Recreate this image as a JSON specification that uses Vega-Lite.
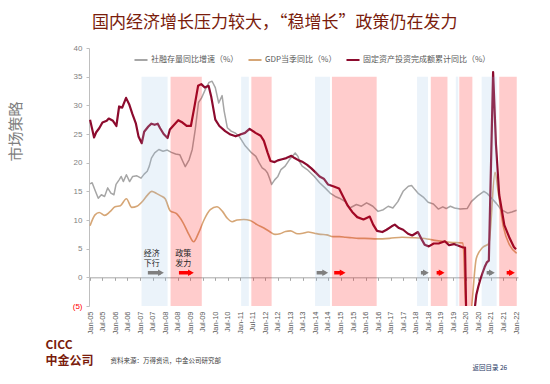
{
  "$schema": "https://vega.github.io/schema/vega-lite/v6.json",
  "width": 429,
  "height": 258,
  "autosize": {"type": "none"},
  "padding": {"left": 89, "top": 48, "right": 32, "bottom": 78},
  "background": "white",
  "title": {"text": "国内经济增长压力较大，“稳增长”政策仍在发力", "anchor": "start", "frame": "group", "orient": "top", "dx": 3, "offset": -5, "baseline": "bottom", "font": "Noto Sans CJK SC", "fontSize": 17, "fontWeight": "normal", "color": "#7A1C0C"},
  "config": {"view": {"stroke": null}, "font": "Noto Sans CJK SC"},
  "resolve": {"axis": {"x": "independent", "y": "independent"}, "scale": {"fill": "independent", "stroke": "independent"}},
  "datasets": {
    "gdp": [
      {"d":"2005-01-01","s":"GDP当季同比（%）","v":9.0},
      {"d":"2005-03-15","s":"GDP当季同比（%）","v":10.9},
      {"d":"2005-05-15","s":"GDP当季同比（%）","v":11.3},
      {"d":"2005-08-01","s":"GDP当季同比（%）","v":10.8},
      {"d":"2005-10-15","s":"GDP当季同比（%）","v":11.4},
      {"d":"2006-01-01","s":"GDP当季同比（%）","v":12.3},
      {"d":"2006-03-20","s":"GDP当季同比（%）","v":12.5},
      {"d":"2006-06-15","s":"GDP当季同比（%）","v":13.7},
      {"d":"2006-09-01","s":"GDP当季同比（%）","v":12.2},
      {"d":"2006-11-15","s":"GDP当季同比（%）","v":12.4},
      {"d":"2007-02-15","s":"GDP当季同比（%）","v":13.4},
      {"d":"2007-04-15","s":"GDP当季同比（%）","v":14.3},
      {"d":"2007-06-20","s":"GDP当季同比（%）","v":15.0},
      {"d":"2007-09-01","s":"GDP当季同比（%）","v":14.6},
      {"d":"2007-11-01","s":"GDP当季同比（%）","v":14.2},
      {"d":"2008-01-01","s":"GDP当季同比（%）","v":13.7},
      {"d":"2008-03-15","s":"GDP当季同比（%）","v":11.6},
      {"d":"2008-06-15","s":"GDP当季同比（%）","v":11.1},
      {"d":"2008-09-15","s":"GDP当季同比（%）","v":9.6},
      {"d":"2008-12-15","s":"GDP当季同比（%）","v":7.4},
      {"d":"2009-02-20","s":"GDP当季同比（%）","v":6.2},
      {"d":"2009-05-01","s":"GDP当季同比（%）","v":7.7},
      {"d":"2009-07-20","s":"GDP当季同比（%）","v":10.0},
      {"d":"2009-10-20","s":"GDP当季同比（%）","v":11.8},
      {"d":"2010-01-25","s":"GDP当季同比（%）","v":12.3},
      {"d":"2010-04-15","s":"GDP当季同比（%）","v":11.5},
      {"d":"2010-06-25","s":"GDP当季同比（%）","v":10.3},
      {"d":"2010-09-05","s":"GDP当季同比（%）","v":9.7},
      {"d":"2010-11-15","s":"GDP当季同比（%）","v":10.0},
      {"d":"2011-02-20","s":"GDP当季同比（%）","v":10.1},
      {"d":"2011-05-25","s":"GDP当季同比（%）","v":9.9},
      {"d":"2011-09-01","s":"GDP当季同比（%）","v":9.2},
      {"d":"2011-12-10","s":"GDP当季同比（%）","v":8.6},
      {"d":"2012-03-01","s":"GDP当季同比（%）","v":8.0},
      {"d":"2012-05-20","s":"GDP当季同比（%）","v":7.5},
      {"d":"2012-08-01","s":"GDP当季同比（%）","v":7.6},
      {"d":"2012-10-20","s":"GDP当季同比（%）","v":8.0},
      {"d":"2013-01-01","s":"GDP当季同比（%）","v":8.1},
      {"d":"2013-04-15","s":"GDP当季同比（%）","v":7.6},
      {"d":"2013-07-01","s":"GDP当季同比（%）","v":7.7},
      {"d":"2013-09-15","s":"GDP当季同比（%）","v":7.9},
      {"d":"2013-12-15","s":"GDP当季同比（%）","v":7.7},
      {"d":"2014-03-15","s":"GDP当季同比（%）","v":7.5},
      {"d":"2014-06-15","s":"GDP当季同比（%）","v":7.4},
      {"d":"2014-09-15","s":"GDP当季同比（%）","v":7.1},
      {"d":"2014-12-15","s":"GDP当季同比（%）","v":7.1},
      {"d":"2015-03-15","s":"GDP当季同比（%）","v":7.0},
      {"d":"2015-06-15","s":"GDP当季同比（%）","v":6.9},
      {"d":"2015-09-15","s":"GDP当季同比（%）","v":6.8},
      {"d":"2015-12-15","s":"GDP当季同比（%）","v":6.8},
      {"d":"2016-06-15","s":"GDP当季同比（%）","v":6.7},
      {"d":"2016-12-15","s":"GDP当季同比（%）","v":6.8},
      {"d":"2017-06-15","s":"GDP当季同比（%）","v":7.0},
      {"d":"2017-12-15","s":"GDP当季同比（%）","v":6.9},
      {"d":"2018-06-15","s":"GDP当季同比（%）","v":6.7},
      {"d":"2018-11-01","s":"GDP当季同比（%）","v":6.4},
      {"d":"2019-05-15","s":"GDP当季同比（%）","v":6.1},
      {"d":"2019-11-20","s":"GDP当季同比（%）","v":6.0},
      {"d":"2020-01-10","s":"GDP当季同比（%）","v":-6.8},
      {"d":"2020-03-01","s":"GDP当季同比（%）","v":-6.8},
      {"d":"2020-06-01","s":"GDP当季同比（%）","v":3.3},
      {"d":"2020-09-01","s":"GDP当季同比（%）","v":5.2},
      {"d":"2020-12-01","s":"GDP当季同比（%）","v":5.9},
      {"d":"2021-03-01","s":"GDP当季同比（%）","v":18.3},
      {"d":"2021-04-20","s":"GDP当季同比（%）","v":14.5},
      {"d":"2021-07-01","s":"GDP当季同比（%）","v":8.8},
      {"d":"2021-10-01","s":"GDP当季同比（%）","v":5.6},
      {"d":"2022-01-10","s":"GDP当季同比（%）","v":4.2}
    ],
    "afre": [
      {"d":"2005-01-01","s":"社融存量同比增速（%）","v":16.3},
      {"d":"2005-02-01","s":"社融存量同比增速（%）","v":16.5},
      {"d":"2005-03-15","s":"社融存量同比增速（%）","v":15.2},
      {"d":"2005-05-01","s":"社融存量同比增速（%）","v":13.8},
      {"d":"2005-06-15","s":"社融存量同比增速（%）","v":14.4},
      {"d":"2005-08-01","s":"社融存量同比增速（%）","v":14.1},
      {"d":"2005-09-15","s":"社融存量同比增速（%）","v":15.6},
      {"d":"2005-11-01","s":"社融存量同比增速（%）","v":14.7},
      {"d":"2005-12-15","s":"社融存量同比增速（%）","v":14.4},
      {"d":"2006-01-15","s":"社融存量同比增速（%）","v":16.2},
      {"d":"2006-03-01","s":"社融存量同比增速（%）","v":17.0},
      {"d":"2006-04-01","s":"社融存量同比增速（%）","v":17.6},
      {"d":"2006-05-01","s":"社融存量同比增速（%）","v":16.7},
      {"d":"2006-06-15","s":"社融存量同比增速（%）","v":17.9},
      {"d":"2006-08-01","s":"社融存量同比增速（%）","v":16.7},
      {"d":"2006-09-15","s":"社融存量同比增速（%）","v":17.6},
      {"d":"2006-11-15","s":"社融存量同比增速（%）","v":17.7},
      {"d":"2007-01-15","s":"社融存量同比增速（%）","v":17.3},
      {"d":"2007-03-01","s":"社融存量同比增速（%）","v":18.0},
      {"d":"2007-04-15","s":"社融存量同比增速（%）","v":18.5},
      {"d":"2007-05-15","s":"社融存量同比增速（%）","v":19.4},
      {"d":"2007-06-15","s":"社融存量同比增速（%）","v":20.8},
      {"d":"2007-08-01","s":"社融存量同比增速（%）","v":21.7},
      {"d":"2007-10-01","s":"社融存量同比增速（%）","v":22.3},
      {"d":"2007-12-01","s":"社融存量同比增速（%）","v":22.0},
      {"d":"2008-02-01","s":"社融存量同比增速（%）","v":22.2},
      {"d":"2008-04-01","s":"社融存量同比增速（%）","v":21.8},
      {"d":"2008-06-01","s":"社融存量同比增速（%）","v":21.5},
      {"d":"2008-08-01","s":"社融存量同比增速（%）","v":21.4},
      {"d":"2008-09-15","s":"社融存量同比增速（%）","v":20.2},
      {"d":"2008-10-20","s":"社融存量同比增速（%）","v":19.3},
      {"d":"2008-12-15","s":"社融存量同比增速（%）","v":20.5},
      {"d":"2009-01-30","s":"社融存量同比增速（%）","v":22.3},
      {"d":"2009-03-15","s":"社融存量同比增速（%）","v":25.8},
      {"d":"2009-05-01","s":"社融存量同比增速（%）","v":30.5},
      {"d":"2009-06-15","s":"社融存量同比增速（%）","v":31.3},
      {"d":"2009-08-10","s":"社融存量同比增速（%）","v":32.8},
      {"d":"2009-10-01","s":"社融存量同比增速（%）","v":34.0},
      {"d":"2009-11-15","s":"社融存量同比增速（%）","v":34.2},
      {"d":"2010-01-01","s":"社融存量同比增速（%）","v":33.1},
      {"d":"2010-02-20","s":"社融存量同比增速（%）","v":30.4},
      {"d":"2010-04-10","s":"社融存量同比增速（%）","v":31.7},
      {"d":"2010-05-10","s":"社融存量同比增速（%）","v":29.0},
      {"d":"2010-06-25","s":"社融存量同比增速（%）","v":26.1},
      {"d":"2010-08-20","s":"社融存量同比增速（%）","v":25.5},
      {"d":"2010-10-15","s":"社融存量同比增速（%）","v":25.2},
      {"d":"2010-12-15","s":"社融存量同比增速（%）","v":24.6},
      {"d":"2011-03-15","s":"社融存量同比增速（%）","v":22.9},
      {"d":"2011-06-15","s":"社融存量同比增速（%）","v":21.7},
      {"d":"2011-08-15","s":"社融存量同比增速（%）","v":21.1},
      {"d":"2011-10-01","s":"社融存量同比增速（%）","v":20.0},
      {"d":"2011-11-15","s":"社融存量同比增速（%）","v":19.1},
      {"d":"2012-01-01","s":"社融存量同比增速（%）","v":18.7},
      {"d":"2012-02-01","s":"社融存量同比增速（%）","v":18.2},
      {"d":"2012-03-01","s":"社融存量同比增速（%）","v":17.3},
      {"d":"2012-04-01","s":"社融存量同比增速（%）","v":16.2},
      {"d":"2012-05-15","s":"社融存量同比增速（%）","v":17.0},
      {"d":"2012-07-01","s":"社融存量同比增速（%）","v":17.6},
      {"d":"2012-08-15","s":"社融存量同比增速（%）","v":18.8},
      {"d":"2012-10-15","s":"社融存量同比增速（%）","v":19.4},
      {"d":"2012-12-15","s":"社融存量同比增速（%）","v":20.5},
      {"d":"2013-03-10","s":"社融存量同比增速（%）","v":21.7},
      {"d":"2013-04-20","s":"社融存量同比增速（%）","v":21.1},
      {"d":"2013-05-20","s":"社融存量同比增速（%）","v":20.0},
      {"d":"2013-06-20","s":"社融存量同比增速（%）","v":19.4},
      {"d":"2013-09-01","s":"社融存量同比增速（%）","v":18.8},
      {"d":"2013-12-15","s":"社融存量同比增速（%）","v":17.6},
      {"d":"2014-03-01","s":"社融存量同比增速（%）","v":16.5},
      {"d":"2014-05-20","s":"社融存量同比增速（%）","v":15.6},
      {"d":"2014-08-01","s":"社融存量同比增速（%）","v":14.7},
      {"d":"2014-10-15","s":"社融存量同比增速（%）","v":14.1},
      {"d":"2014-12-15","s":"社融存量同比增速（%）","v":13.8},
      {"d":"2015-03-10","s":"社融存量同比增速（%）","v":13.2},
      {"d":"2015-05-15","s":"社融存量同比增速（%）","v":12.1},
      {"d":"2015-08-20","s":"社融存量同比增速（%）","v":12.7},
      {"d":"2015-11-01","s":"社融存量同比增速（%）","v":12.4},
      {"d":"2016-01-15","s":"社融存量同比增速（%）","v":13.0},
      {"d":"2016-03-01","s":"社融存量同比增速（%）","v":12.7},
      {"d":"2016-04-15","s":"社融存量同比增速（%）","v":12.4},
      {"d":"2016-06-30","s":"社融存量同比增速（%）","v":11.5},
      {"d":"2016-09-15","s":"社融存量同比增速（%）","v":11.8},
      {"d":"2016-11-25","s":"社融存量同比增速（%）","v":12.4},
      {"d":"2017-02-01","s":"社融存量同比增速（%）","v":12.1},
      {"d":"2017-04-15","s":"社融存量同比增速（%）","v":13.2},
      {"d":"2017-06-30","s":"社融存量同比增速（%）","v":15.0},
      {"d":"2017-09-15","s":"社融存量同比增速（%）","v":15.9},
      {"d":"2017-11-01","s":"社融存量同比增速（%）","v":16.0},
      {"d":"2017-12-20","s":"社融存量同比增速（%）","v":15.3},
      {"d":"2018-02-10","s":"社融存量同比增速（%）","v":14.6},
      {"d":"2018-04-20","s":"社融存量同比增速（%）","v":14.0},
      {"d":"2018-06-30","s":"社融存量同比增速（%）","v":13.1},
      {"d":"2018-09-15","s":"社融存量同比增速（%）","v":12.8},
      {"d":"2018-11-25","s":"社融存量同比增速（%）","v":11.9},
      {"d":"2019-01-30","s":"社融存量同比增速（%）","v":12.3},
      {"d":"2019-03-20","s":"社融存量同比增速（%）","v":12.0},
      {"d":"2019-05-20","s":"社融存量同比增速（%）","v":12.4},
      {"d":"2019-07-20","s":"社融存量同比增速（%）","v":12.1},
      {"d":"2019-10-10","s":"社融存量同比增速（%）","v":11.9},
      {"d":"2020-01-20","s":"社融存量同比增速（%）","v":12.0},
      {"d":"2020-03-20","s":"社融存量同比增速（%）","v":13.2},
      {"d":"2020-06-20","s":"社融存量同比增速（%）","v":14.2},
      {"d":"2020-09-20","s":"社融存量同比增速（%）","v":15.0},
      {"d":"2020-11-10","s":"社融存量同比增速（%）","v":14.6},
      {"d":"2021-01-10","s":"社融存量同比增速（%）","v":13.8},
      {"d":"2021-03-20","s":"社融存量同比增速（%）","v":12.9},
      {"d":"2021-06-01","s":"社融存量同比增速（%）","v":11.8},
      {"d":"2021-09-01","s":"社融存量同比增速（%）","v":11.2},
      {"d":"2021-11-01","s":"社融存量同比增速（%）","v":11.4},
      {"d":"2022-01-10","s":"社融存量同比增速（%）","v":11.7}
    ],
    "fai": [
      {"d":"2005-01-01","s":"固定资产投资完成额累计同比（%）","v":27.5},
      {"d":"2005-03-01","s":"固定资产投资完成额累计同比（%）","v":24.4},
      {"d":"2005-04-01","s":"固定资产投资完成额累计同比（%）","v":25.3},
      {"d":"2005-05-15","s":"固定资产投资完成额累计同比（%）","v":26.0},
      {"d":"2005-07-01","s":"固定资产投资完成额累计同比（%）","v":27.0},
      {"d":"2005-09-01","s":"固定资产投资完成额累计同比（%）","v":27.3},
      {"d":"2005-10-01","s":"固定资产投资完成额累计同比（%）","v":27.7},
      {"d":"2005-12-01","s":"固定资产投资完成额累计同比（%）","v":27.3},
      {"d":"2006-01-20","s":"固定资产投资完成额累计同比（%）","v":26.4},
      {"d":"2006-03-01","s":"固定资产投资完成额累计同比（%）","v":29.8},
      {"d":"2006-04-15","s":"固定资产投资完成额累计同比（%）","v":29.6},
      {"d":"2006-06-10","s":"固定资产投资完成额累计同比（%）","v":31.3},
      {"d":"2006-07-25","s":"固定资产投资完成额累计同比（%）","v":30.2},
      {"d":"2006-09-10","s":"固定资产投资完成额累计同比（%）","v":28.5},
      {"d":"2006-11-01","s":"固定资产投资完成额累计同比（%）","v":26.8},
      {"d":"2006-12-10","s":"固定资产投资完成额累计同比（%）","v":24.5},
      {"d":"2007-01-25","s":"固定资产投资完成额累计同比（%）","v":23.4},
      {"d":"2007-03-01","s":"固定资产投资完成额累计同比（%）","v":25.4},
      {"d":"2007-05-01","s":"固定资产投资完成额累计同比（%）","v":26.3},
      {"d":"2007-06-15","s":"固定资产投资完成额累计同比（%）","v":26.8},
      {"d":"2007-08-01","s":"固定资产投资完成额累计同比（%）","v":26.6},
      {"d":"2007-09-15","s":"固定资产投资完成额累计同比（%）","v":26.8},
      {"d":"2007-10-20","s":"固定资产投资完成额累计同比（%）","v":26.0},
      {"d":"2007-12-10","s":"固定资产投资完成额累计同比（%）","v":25.0},
      {"d":"2008-02-05","s":"固定资产投资完成额累计同比（%）","v":24.3},
      {"d":"2008-03-10","s":"固定资产投资完成额累计同比（%）","v":25.8},
      {"d":"2008-05-01","s":"固定资产投资完成额累计同比（%）","v":26.5},
      {"d":"2008-07-10","s":"固定资产投资完成额累计同比（%）","v":27.4},
      {"d":"2008-09-10","s":"固定资产投资完成额累计同比（%）","v":27.0},
      {"d":"2008-11-10","s":"固定资产投资完成额累计同比（%）","v":26.4},
      {"d":"2009-01-10","s":"固定资产投资完成额累计同比（%）","v":26.4},
      {"d":"2009-03-05","s":"固定资产投资完成额累计同比（%）","v":29.9},
      {"d":"2009-04-25","s":"固定资产投资完成额累计同比（%）","v":33.4},
      {"d":"2009-06-10","s":"固定资产投资完成额累计同比（%）","v":33.7},
      {"d":"2009-08-01","s":"固定资产投资完成额累计同比（%）","v":33.1},
      {"d":"2009-09-25","s":"固定资产投资完成额累计同比（%）","v":33.4},
      {"d":"2009-11-01","s":"固定资产投资完成额累计同比（%）","v":31.6},
      {"d":"2010-01-01","s":"固定资产投资完成额累计同比（%）","v":27.5},
      {"d":"2010-03-01","s":"固定资产投资完成额累计同比（%）","v":26.4},
      {"d":"2010-05-25","s":"固定资产投资完成额累计同比（%）","v":25.5},
      {"d":"2010-08-10","s":"固定资产投资完成额累计同比（%）","v":24.9},
      {"d":"2010-10-25","s":"固定资产投资完成额累计同比（%）","v":24.6},
      {"d":"2011-01-01","s":"固定资产投资完成额累计同比（%）","v":24.9},
      {"d":"2011-03-10","s":"固定资产投资完成额累计同比（%）","v":25.2},
      {"d":"2011-05-15","s":"固定资产投资完成额累计同比（%）","v":25.9},
      {"d":"2011-08-10","s":"固定资产投资完成额累计同比（%）","v":25.2},
      {"d":"2011-10-25","s":"固定资产投资完成额累计同比（%）","v":24.7},
      {"d":"2011-12-10","s":"固定资产投资完成额累计同比（%）","v":23.8},
      {"d":"2012-02-01","s":"固定资产投资完成额累计同比（%）","v":21.8},
      {"d":"2012-03-15","s":"固定资产投资完成额累计同比（%）","v":20.3},
      {"d":"2012-05-15","s":"固定资产投资完成额累计同比（%）","v":20.1},
      {"d":"2012-07-01","s":"固定资产投资完成额累计同比（%）","v":20.4},
      {"d":"2012-09-01","s":"固定资产投资完成额累计同比（%）","v":20.6},
      {"d":"2012-11-01","s":"固定资产投资完成额累计同比（%）","v":20.8},
      {"d":"2013-01-15","s":"固定资产投资完成额累计同比（%）","v":21.2},
      {"d":"2013-03-01","s":"固定资产投资完成额累计同比（%）","v":20.8},
      {"d":"2013-05-01","s":"固定资产投资完成额累计同比（%）","v":20.4},
      {"d":"2013-07-01","s":"固定资产投资完成额累计同比（%）","v":20.1},
      {"d":"2013-09-01","s":"固定资产投资完成额累计同比（%）","v":19.6},
      {"d":"2013-11-01","s":"固定资产投资完成额累计同比（%）","v":19.0},
      {"d":"2014-01-01","s":"固定资产投资完成额累计同比（%）","v":18.3},
      {"d":"2014-03-01","s":"固定资产投资完成额累计同比（%）","v":17.6},
      {"d":"2014-05-01","s":"固定资产投资完成额累计同比（%）","v":17.2},
      {"d":"2014-07-01","s":"固定资产投资完成额累计同比（%）","v":16.2},
      {"d":"2014-09-15","s":"固定资产投资完成额累计同比（%）","v":15.9},
      {"d":"2014-12-10","s":"固定资产投资完成额累计同比（%）","v":15.5},
      {"d":"2015-02-10","s":"固定资产投资完成额累计同比（%）","v":14.0},
      {"d":"2015-04-15","s":"固定资产投资完成额累计同比（%）","v":12.5},
      {"d":"2015-06-20","s":"固定资产投资完成额累计同比（%）","v":11.4},
      {"d":"2015-09-01","s":"固定资产投资完成额累计同比（%）","v":10.5},
      {"d":"2015-12-01","s":"固定资产投资完成额累计同比（%）","v":10.1},
      {"d":"2016-03-01","s":"固定资产投资完成额累计同比（%）","v":10.6},
      {"d":"2016-04-20","s":"固定资产投资完成额累计同比（%）","v":9.2},
      {"d":"2016-06-15","s":"固定资产投资完成额累计同比（%）","v":8.1},
      {"d":"2016-09-01","s":"固定资产投资完成额累计同比（%）","v":7.9},
      {"d":"2016-11-01","s":"固定资产投资完成额累计同比（%）","v":8.3},
      {"d":"2017-01-15","s":"固定资产投资完成额累计同比（%）","v":8.9},
      {"d":"2017-03-01","s":"固定资产投资完成额累计同比（%）","v":9.2},
      {"d":"2017-05-01","s":"固定资产投资完成额累计同比（%）","v":8.6},
      {"d":"2017-07-01","s":"固定资产投资完成额累计同比（%）","v":8.3},
      {"d":"2017-09-10","s":"固定资产投资完成额累计同比（%）","v":7.6},
      {"d":"2017-11-10","s":"固定资产投资完成额累计同比（%）","v":7.3},
      {"d":"2018-02-01","s":"固定资产投资完成额累计同比（%）","v":7.9},
      {"d":"2018-03-20","s":"固定资产投资完成额累计同比（%）","v":6.8},
      {"d":"2018-05-10","s":"固定资产投资完成额累计同比（%）","v":5.7},
      {"d":"2018-07-10","s":"固定资产投资完成额累计同比（%）","v":5.4},
      {"d":"2018-09-20","s":"固定资产投资完成额累计同比（%）","v":5.9},
      {"d":"2018-12-01","s":"固定资产投资完成额累计同比（%）","v":5.9},
      {"d":"2019-03-01","s":"固定资产投资完成额累计同比（%）","v":6.3},
      {"d":"2019-05-01","s":"固定资产投资完成额累计同比（%）","v":5.6},
      {"d":"2019-07-10","s":"固定资产投资完成额累计同比（%）","v":5.8},
      {"d":"2019-09-15","s":"固定资产投资完成额累计同比（%）","v":5.5},
      {"d":"2019-11-20","s":"固定资产投资完成额累计同比（%）","v":5.2},
      {"d":"2019-12-20","s":"固定资产投资完成额累计同比（%）","v":5.2},
      {"d":"2020-02-01","s":"固定资产投资完成额累计同比（%）","v":-24.5},
      {"d":"2020-03-01","s":"固定资产投资完成额累计同比（%）","v":-16.1},
      {"d":"2020-04-01","s":"固定资产投资完成额累计同比（%）","v":-10.3},
      {"d":"2020-05-01","s":"固定资产投资完成额累计同比（%）","v":-6.3},
      {"d":"2020-06-01","s":"固定资产投资完成额累计同比（%）","v":-3.1},
      {"d":"2020-07-01","s":"固定资产投资完成额累计同比（%）","v":-1.6},
      {"d":"2020-08-01","s":"固定资产投资完成额累计同比（%）","v":-0.3},
      {"d":"2020-09-01","s":"固定资产投资完成额累计同比（%）","v":0.8},
      {"d":"2020-10-01","s":"固定资产投资完成额累计同比（%）","v":1.8},
      {"d":"2020-11-01","s":"固定资产投资完成额累计同比（%）","v":2.6},
      {"d":"2020-12-01","s":"固定资产投资完成额累计同比（%）","v":2.9},
      {"d":"2021-02-01","s":"固定资产投资完成额累计同比（%）","v":35.8},
      {"d":"2021-03-15","s":"固定资产投资完成额累计同比（%）","v":23.1},
      {"d":"2021-05-01","s":"固定资产投资完成额累计同比（%）","v":14.4},
      {"d":"2021-07-15","s":"固定资产投资完成额累计同比（%）","v":9.1},
      {"d":"2021-10-01","s":"固定资产投资完成额累计同比（%）","v":6.8},
      {"d":"2021-12-01","s":"固定资产投资完成额累计同比（%）","v":5.3},
      {"d":"2022-01-01","s":"固定资产投资完成额累计同比（%）","v":4.9}
    ],
    "bands": [
      {"start":"2007-01-22","end":"2008-02-06","k":"经济下行"},
      {"start":"2008-03-20","end":"2009-06-18","k":"政策发力"},
      {"start":"2011-01-12","end":"2011-05-05","k":"经济下行"},
      {"start":"2011-06-10","end":"2012-04-01","k":"政策发力"},
      {"start":"2013-12-25","end":"2014-07-31","k":"经济下行"},
      {"start":"2014-08-28","end":"2016-06-10","k":"政策发力"},
      {"start":"2018-01-20","end":"2018-06-28","k":"经济下行"},
      {"start":"2018-08-08","end":"2019-04-08","k":"政策发力"},
      {"start":"2019-08-08","end":"2019-09-13","k":"经济下行"},
      {"start":"2019-09-27","end":"2020-04-05","k":"政策发力"},
      {"start":"2020-08-18","end":"2021-03-25","k":"经济下行"},
      {"start":"2021-05-01","end":"2022-01-12","k":"政策发力"}
    ],
    "arrows": [
      {"start":"2007-04-24","head":"2007-11-01","k":"经济下行"},
      {"start":"2008-07-20","head":"2009-01-11","k":"政策发力"},
      {"start":"2014-01-17","head":"2014-05-22","k":"经济下行"},
      {"start":"2014-09-30","head":"2015-01-31","k":"政策发力"},
      {"start":"2018-03-17","head":"2018-05-29","k":"经济下行"},
      {"start":"2018-11-01","head":"2019-01-13","k":"政策发力"},
      {"start":"2020-10-30","head":"2021-01-15","k":"经济下行"},
      {"start":"2021-08-18","head":"2021-11-03","k":"政策发力"}
    ],
    "notes": [
      {"d":"2007-06-18","v":4.0,"t":"经济\n下行"},
      {"d":"2008-09-20","v":4.0,"t":"政策\n发力"}
    ]
  },
  "layer": [
    {
      "data": {"name": "gdp"},
      "mark": {"type": "line", "interpolate": "monotone", "clip": true, "strokeWidth": 1.6},
      "encoding": {
        "x": {"field": "d", "type": "temporal",
          "scale": {"domain": [{"year": 2004, "month": 12, "date": 17}, {"year": 2022, "month": 1, "date": 30}]},
          "axis": {"orient": "bottom", "format": "%b-%y", "tickCount": {"interval": "month", "step": 6}, "labelAngle": -90, "labelFont": "Liberation Sans", "labelFontSize": 7.5, "labelColor": "#595959", "labelPadding": 5, "labelOverlap": false, "labelFlush": false, "labelBound": false, "domain": false, "ticks": false, "grid": false,
            "title": "资料来源：万得资讯，中金公司研究部", "titleFont": "Noto Sans CJK SC", "titleFontSize": 6.5, "titleFontWeight": "normal", "titleColor": "#404040", "titleAnchor": "start", "titleAlign": "left", "titleBaseline": "middle", "titleX": 21, "titleY": 54}},
        "y": {"field": "v", "type": "quantitative",
          "scale": {"domain": [-5, 40], "nice": false, "zero": false},
          "axis": {"orient": "left", "values": [-5, 0, 5, 10, 15, 20, 25, 30, 35, 40], "labelExpr": "datum.value < 0 ? '(' + abs(datum.value) + ')' : datum.label", "labelColor": {"condition": {"test": "datum.value < 0", "value": "#FF0000"}, "value": "#7F7F7F"}, "labelFont": "Liberation Sans", "labelFontSize": 8, "labelPadding": 4, "domainColor": "#BFBFBF", "tickColor": "#BFBFBF", "tickSize": 3, "grid": false,
            "title": "市场策略", "titleFont": "Noto Sans CJK SC", "titleFontSize": 15, "titleFontWeight": "normal", "titleColor": "#7F7F7F", "titleAngle": -90, "titleX": -74, "titleY": 83, "titleAlign": "center", "titleBaseline": "middle"}},
        "color": {"field": "s", "type": "nominal",
          "scale": {"domain": ["社融存量同比增速（%）", "GDP当季同比（%）", "固定资产投资完成额累计同比（%）"], "range": ["#A6A6A6", "#D6A676", "#8C0B2E"]},
          "legend": {"orient": "none", "legendX": 44, "legendY": 4, "direction": "horizontal", "title": null, "symbolType": "stroke", "symbolSize": 170, "symbolStrokeWidth": 2, "labelFont": "Noto Sans CJK SC", "labelFontSize": 8, "labelColor": "#595959", "labelOffset": 2, "columnPadding": 5, "labelLimit": 300}}
      }
    },
    {
      "data": {"name": "afre"},
      "mark": {"type": "line", "clip": true, "strokeWidth": 1.5, "strokeJoin": "round"},
      "encoding": {
        "x": {"field": "d", "type": "temporal",
          "scale": {"domain": [{"year": 2004, "month": 12, "date": 17}, {"year": 2022, "month": 1, "date": 30}]},
          "axis": {"orient": "bottom", "offset": -28.67, "labels": false, "domain": true, "domainColor": "#A6A6A6", "domainWidth": 1, "ticks": true, "tickColor": "#A6A6A6", "tickSize": 3, "tickCount": {"interval": "month", "step": 6}, "grid": false,
            "title": "返回目录                 26", "titleFont": "Noto Sans CJK SC", "titleFontSize": 6.5, "titleFontWeight": "normal", "titleColor": "#1F3864", "titleAnchor": "start", "titleAlign": "left", "titleBaseline": "middle", "titleX": 383, "titleY": 90}},
        "y": {"field": "v", "type": "quantitative",
          "scale": {"domain": [-5, 40], "nice": false, "zero": false},
          "axis": {"orient": "right", "labels": false, "ticks": false, "domain": false, "grid": false,
            "title": ["CICC", "中金公司"], "titleAngle": 0, "titleX": -473, "titleY": 291, "titleAlign": "left", "titleBaseline": "top", "titleFont": "Noto Sans CJK SC", "titleFontSize": 12, "titleFontWeight": "bold", "titleColor": "#7A1C0C", "titleLineHeight": 16}},
        "color": {"field": "s", "type": "nominal",
          "scale": {"domain": ["社融存量同比增速（%）", "GDP当季同比（%）", "固定资产投资完成额累计同比（%）"], "range": ["#A6A6A6", "#D6A676", "#8C0B2E"]},
          "legend": {"orient": "none", "legendX": 44, "legendY": 4, "direction": "horizontal", "title": null, "symbolType": "stroke", "symbolSize": 170, "symbolStrokeWidth": 2, "labelFont": "Noto Sans CJK SC", "labelFontSize": 8, "labelColor": "#595959", "labelOffset": 2, "columnPadding": 5, "labelLimit": 300}}
      }
    },
    {
      "data": {"name": "fai"},
      "mark": {"type": "line", "clip": true, "strokeWidth": 2.2, "strokeJoin": "round"},
      "encoding": {
        "x": {"field": "d", "type": "temporal", "scale": {"domain": [{"year": 2004, "month": 12, "date": 17}, {"year": 2022, "month": 1, "date": 30}]}, "axis": null},
        "y": {"field": "v", "type": "quantitative", "scale": {"domain": [-5, 40], "nice": false, "zero": false}, "axis": null},
        "color": {"field": "s", "type": "nominal",
          "scale": {"domain": ["社融存量同比增速（%）", "GDP当季同比（%）", "固定资产投资完成额累计同比（%）"], "range": ["#A6A6A6", "#D6A676", "#8C0B2E"]},
          "legend": {"orient": "none", "legendX": 44, "legendY": 4, "direction": "horizontal", "title": null, "symbolType": "stroke", "symbolSize": 170, "symbolStrokeWidth": 2, "labelFont": "Noto Sans CJK SC", "labelFontSize": 8, "labelColor": "#595959", "labelOffset": 2, "columnPadding": 5, "labelLimit": 300}}
      }
    },
    {
      "data": {"name": "bands"},
      "mark": {"type": "rect", "opacity": 0.2},
      "encoding": {
        "x": {"field": "start", "type": "temporal", "scale": {"domain": [{"year": 2004, "month": 12, "date": 17}, {"year": 2022, "month": 1, "date": 30}]}, "axis": null},
        "x2": {"field": "end"},
        "y": {"datum": -5, "type": "quantitative", "scale": {"domain": [-5, 40], "nice": false, "zero": false}, "axis": null},
        "y2": {"datum": 35},
        "fill": {"field": "k", "type": "nominal", "scale": {"domain": ["经济下行", "政策发力"], "range": ["#9DC3E6", "#FF0000"]}, "legend": null}
      }
    },
    {
      "data": {"name": "arrows"},
      "mark": {"type": "rule", "strokeWidth": 3.5, "strokeCap": "butt"},
      "encoding": {
        "x": {"field": "start", "type": "temporal", "scale": {"domain": [{"year": 2004, "month": 12, "date": 17}, {"year": 2022, "month": 1, "date": 30}]}, "axis": null},
        "x2": {"field": "head"},
        "y": {"datum": 0.8, "type": "quantitative", "scale": {"domain": [-5, 40], "nice": false, "zero": false}, "axis": null},
        "stroke": {"field": "k", "type": "nominal", "scale": {"domain": ["经济下行", "政策发力"], "range": ["#7F7F7F", "#FF0000"]}, "legend": null}
      }
    },
    {
      "data": {"name": "arrows"},
      "mark": {"type": "point", "shape": "triangle-right", "filled": true, "size": 45, "opacity": 1},
      "encoding": {
        "x": {"field": "head", "type": "temporal", "scale": {"domain": [{"year": 2004, "month": 12, "date": 17}, {"year": 2022, "month": 1, "date": 30}]}, "axis": null},
        "y": {"datum": 0.8, "type": "quantitative", "scale": {"domain": [-5, 40], "nice": false, "zero": false}, "axis": null},
        "fill": {"field": "k", "type": "nominal", "scale": {"domain": ["经济下行", "政策发力"], "range": ["#7F7F7F", "#FF0000"]}, "legend": null}
      }
    },
    {
      "data": {"name": "notes"},
      "mark": {"type": "text", "lineBreak": "\n", "fontSize": 8, "lineHeight": 10, "color": "#262626", "font": "Noto Sans CJK SC", "align": "center", "baseline": "middle"},
      "encoding": {
        "x": {"field": "d", "type": "temporal", "scale": {"domain": [{"year": 2004, "month": 12, "date": 17}, {"year": 2022, "month": 1, "date": 30}]}, "axis": null},
        "y": {"field": "v", "type": "quantitative", "scale": {"domain": [-5, 40], "nice": false, "zero": false}, "axis": null},
        "text": {"field": "t"}
      }
    }
  ]
}
